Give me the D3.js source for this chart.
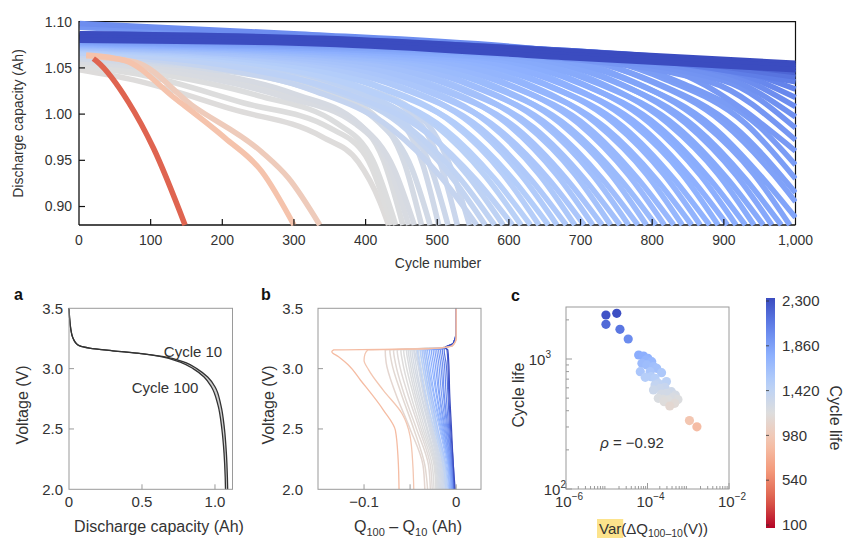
<!DOCTYPE html>
<html><head><meta charset="utf-8">
<script src="https://cdn.jsdelivr.net/npm/d3@7"></script>
<style>body{margin:0;background:#fff}svg{font-family:"Liberation Sans",Arial,Helvetica,sans-serif}</style>
</head><body>
<svg id="c" width="846" height="540"></svg>
<script>
// ================= DATA =================
// Top panel: discharge capacity (Ah) vs cycle number, one curve per cell (drawing order)
const capTicksX = [0,100,200,300,400,500,600,700,800,900,1000];
const capTicksY = [0.90,0.95,1.00,1.05,1.10];
const capLives = [430,436,442,450,460,468,478,490,502,515,528,545,
  555,567,580,592,605,617,630,642,655,667,680,692,705,717,730,742,755,767,780,792,805,817,830,842,855,867,880,892,905,917,930,942,955,967,980,992,
  1005,1020,1035,1050,1070,1090,1110,1140,1170,1200,1250,1300,1350,1450,1600,1900,2100,2250,2300,
  336,300,148];
const capCurves = [
  [[0,1.048],[76,1.037],[215,1.005],[340,0.975],[390,0.948],[420,0.905],[432,0.88]],
  [[0,1.052],[90,1.042],[230,1.012],[350,0.985],[400,0.955],[436,0.88]],
  [[0,1.055],[100,1.045],[250,1.02],[360,0.99],[410,0.95],[442,0.88]],
  [[0,1.058],[120,1.048],[270,1.025],[380,0.995],[425,0.95],[452,0.88]],
  [[0,1.057],[130,1.046],[280,1.02],[385,0.99],[432,0.945],[460,0.88]],
  [[0,1.06],[150,1.048],[300,1.022],[390,0.99],[440,0.94],[468,0.88]],
  [[0,1.062],[150,1.052],[320,1.03],[410,1.0],[455,0.945],[478,0.88]],
  [[0,1.06],[170,1.05],[330,1.025],[420,0.99],[465,0.94],[490,0.88]],
  [[0,1.065],[200,1.052],[350,1.03],[440,1.0],[480,0.945],[502,0.88]],
  [[0,1.062],[200,1.05],[360,1.028],[450,0.995],[492,0.94],[515,0.88]],
  [[0,1.066],[220,1.055],[380,1.032],[465,1.0],[505,0.945],[528,0.88]],
  [[0,1.064],[230,1.052],[390,1.03],[480,0.995],[520,0.94],[545,0.88]],
  [[0,1.066],[175,1.052],[325,1.026],[435,0.985],[505,0.932],[555,0.88]],
  [[0,1.07],[187,1.056],[337,1.03],[447,0.99],[517,0.935],[567,0.88]],
  [[0,1.068],[200,1.054],[350,1.027],[460,0.986],[530,0.932],[580,0.88]],
  [[0,1.071],[212,1.057],[362,1.032],[472,0.99],[542,0.934],[592,0.88]],
  [[0,1.066],[225,1.05],[375,1.022],[485,0.98],[555,0.928],[605,0.88]],
  [[0,1.072],[237,1.058],[387,1.031],[497,0.988],[567,0.933],[617,0.88]],
  [[0,1.069],[250,1.054],[400,1.026],[510,0.984],[580,0.93],[630,0.88]],
  [[0,1.073],[262,1.059],[412,1.032],[522,0.99],[592,0.935],[642,0.88]],
  [[0,1.07],[275,1.055],[425,1.027],[535,0.984],[605,0.93],[655,0.88]],
  [[0,1.074],[287,1.06],[437,1.033],[547,0.99],[617,0.934],[667,0.88]],
  [[0,1.071],[300,1.056],[450,1.028],[560,0.985],[630,0.93],[680,0.88]],
  [[0,1.075],[312,1.061],[462,1.034],[572,0.99],[642,0.935],[692,0.88]],
  [[0,1.072],[325,1.057],[475,1.028],[585,0.984],[655,0.93],[705,0.88]],
  [[0,1.075],[337,1.061],[487,1.034],[597,0.99],[667,0.934],[717,0.88]],
  [[0,1.072],[350,1.057],[500,1.028],[610,0.985],[680,0.93],[730,0.88]],
  [[0,1.076],[362,1.062],[512,1.035],[622,0.99],[692,0.935],[742,0.88]],
  [[0,1.073],[375,1.058],[525,1.029],[635,0.985],[705,0.93],[755,0.88]],
  [[0,1.076],[387,1.062],[537,1.035],[647,0.99],[717,0.934],[767,0.88]],
  [[0,1.074],[400,1.059],[550,1.03],[660,0.985],[730,0.93],[780,0.88]],
  [[0,1.077],[412,1.063],[562,1.036],[672,0.99],[742,0.935],[792,0.88]],
  [[0,1.074],[425,1.059],[575,1.03],[685,0.985],[755,0.93],[805,0.88]],
  [[0,1.077],[437,1.063],[587,1.036],[697,0.99],[767,0.934],[817,0.88]],
  [[0,1.075],[450,1.06],[600,1.031],[710,0.986],[780,0.93],[830,0.88]],
  [[0,1.078],[462,1.064],[612,1.037],[722,0.99],[792,0.935],[842,0.88]],
  [[0,1.075],[475,1.06],[625,1.031],[735,0.985],[805,0.93],[855,0.88]],
  [[0,1.078],[487,1.064],[637,1.037],[747,0.99],[817,0.934],[867,0.88]],
  [[0,1.076],[500,1.061],[650,1.032],[760,0.986],[830,0.93],[880,0.88]],
  [[0,1.079],[512,1.065],[662,1.038],[772,0.99],[842,0.935],[892,0.88]],
  [[0,1.076],[525,1.061],[675,1.032],[785,0.986],[855,0.93],[905,0.88]],
  [[0,1.079],[537,1.065],[687,1.038],[797,0.99],[867,0.934],[917,0.88]],
  [[0,1.077],[550,1.062],[700,1.033],[810,0.986],[880,0.93],[930,0.88]],
  [[0,1.08],[562,1.066],[712,1.039],[822,0.99],[892,0.935],[942,0.88]],
  [[0,1.077],[575,1.062],[725,1.033],[835,0.986],[905,0.93],[955,0.88]],
  [[0,1.08],[587,1.066],[737,1.039],[847,0.99],[917,0.934],[967,0.88]],
  [[0,1.078],[600,1.063],[750,1.034],[860,0.986],[930,0.93],[980,0.88]],
  [[0,1.08],[612,1.066],[762,1.039],[872,0.99],[942,0.935],[992,0.88]],
  [[0,1.078],[625,1.063],[775,1.034],[885,0.986],[955,0.93],[1000,0.888]],
  [[0,1.081],[640,1.066],[790,1.038],[900,0.99],[970,0.934],[1000,0.905]],
  [[0,1.079],[655,1.064],[805,1.034],[915,0.986],[1000,0.915]],
  [[0,1.081],[670,1.066],[820,1.037],[930,0.99],[1000,0.93]],
  [[0,1.08],[690,1.064],[840,1.034],[950,0.986],[1000,0.945]],
  [[0,1.082],[710,1.066],[860,1.037],[1000,0.96]],
  [[0,1.094],[250,1.083],[600,1.066],[880,1.035],[1000,0.972]],
  [[0,1.096],[300,1.085],[620,1.067],[900,1.036],[1000,0.985]],
  [[0,1.082],[650,1.067],[900,1.04],[1000,0.997]],
  [[0,1.098],[300,1.087],[650,1.07],[900,1.045],[1000,1.008]],
  [[0,1.083],[650,1.068],[900,1.048],[1000,1.018]],
  [[0,1.085],[700,1.068],[900,1.052],[1000,1.027]],
  [[0,1.084],[700,1.066],[1000,1.035]],
  [[0,1.086],[600,1.07],[850,1.056],[1000,1.04]],
  [[0,1.087],[500,1.076],[800,1.062],[1000,1.045]],
  [[0,1.085],[340,1.08],[686,1.066],[1000,1.05]],
  [[0,1.087],[340,1.082],[686,1.068],[1000,1.055]],
  [[0,1.083],[340,1.079],[686,1.064],[1000,1.052]],
  [[0,1.08],[340,1.076],[686,1.061],[1000,1.048]],
  [[10,1.063],[80,1.056],[157,1.010],[255,0.959],[292,0.931],[336,0.88]],
  [[10,1.064],[64,1.058],[134,1.017],[204,0.974],[255,0.938],[300,0.88]],
  [[20,1.06],[25,1.057],[69,1.013],[104,0.963],[148,0.88]]
];

// Panel a: voltage curves at cycle 10 and cycle 100
const aTicksX = [0,0.5,1.0];
const aTicksY = [2.0,2.5,3.0,3.5];
const aVolt = [3.5,3.42,3.33,3.26,3.215,3.19,3.17,3.148,3.125,3.1,3.05,3.0,2.93,2.85,2.7,2.5,2.3,2.1,2.0];
const aQ10  = [0,0.004,0.012,0.025,0.045,0.07,0.14,0.3,0.5,0.65,0.80,0.875,0.95,1.0,1.04,1.065,1.078,1.085,1.087];
const aQ100 = [0,0.004,0.012,0.025,0.045,0.07,0.14,0.3,0.49,0.63,0.77,0.85,0.925,0.975,1.02,1.047,1.062,1.07,1.072];

// Panel b: Q100 - Q10 vs voltage
const bTicksX = [-0.1,-0.05,0];
const bTickLabels = ["\u22120.1","","0"];
const bTicksY = [2.0,2.5,3.0,3.5];
const bTopV = [3.5,3.3,3.21,3.175];
const bTopQ = [0,0,-0.003,-0.012];
const bVolt = [3.155,3.05,2.8,2.5,2.2,2.0];
const bLives = [430,440,450,460,470,480,490,500,510,520,530,540,550,560,575,590,610,630,
  650,720,800,870,930,990,1050,1100,1150,1200,1250,1300,1380,1500,1700,2000,2300];
const bCurvesQ = [
  [-0.077,-0.076,-0.066,-0.050,-0.036,-0.034],
  [-0.072,-0.070,-0.060,-0.046,-0.034,-0.031],
  [-0.068,-0.066,-0.057,-0.043,-0.030,-0.028],
  [-0.064,-0.062,-0.053,-0.040,-0.028,-0.026],
  [-0.060,-0.058,-0.050,-0.038,-0.026,-0.024],
  [-0.057,-0.055,-0.047,-0.036,-0.024,-0.022],
  [-0.054,-0.052,-0.045,-0.034,-0.023,-0.021],
  [-0.052,-0.050,-0.043,-0.032,-0.022,-0.020],
  [-0.050,-0.048,-0.041,-0.031,-0.021,-0.019],
  [-0.048,-0.046,-0.039,-0.029,-0.020,-0.018],
  [-0.046,-0.044,-0.038,-0.028,-0.019,-0.017],
  [-0.045,-0.042,-0.036,-0.027,-0.018,-0.016],
  [-0.043,-0.041,-0.035,-0.026,-0.017,-0.015],
  [-0.041,-0.039,-0.033,-0.025,-0.016,-0.014],
  [-0.039,-0.037,-0.031,-0.023,-0.015,-0.013],
  [-0.037,-0.035,-0.030,-0.022,-0.014,-0.012],
  [-0.035,-0.033,-0.028,-0.021,-0.013,-0.011],
  [-0.033,-0.031,-0.027,-0.020,-0.012,-0.010],
  [-0.042,-0.040,-0.034,-0.024,-0.014,-0.011],
  [-0.039,-0.037,-0.031,-0.022,-0.012,-0.009],
  [-0.037,-0.035,-0.029,-0.020,-0.011,-0.008],
  [-0.035,-0.033,-0.027,-0.018,-0.010,-0.007],
  [-0.033,-0.031,-0.025,-0.017,-0.009,-0.007],
  [-0.031,-0.029,-0.024,-0.016,-0.008,-0.006],
  [-0.029,-0.027,-0.022,-0.015,-0.008,-0.005],
  [-0.027,-0.025,-0.021,-0.014,-0.007,-0.005],
  [-0.025,-0.023,-0.019,-0.013,-0.007,-0.004],
  [-0.023,-0.021,-0.018,-0.012,-0.006,-0.004],
  [-0.021,-0.019,-0.016,-0.011,-0.006,-0.003],
  [-0.019,-0.017,-0.014,-0.010,-0.005,-0.003],
  [-0.017,-0.015,-0.013,-0.009,-0.005,-0.003],
  [-0.015,-0.013,-0.011,-0.008,-0.004,-0.002],
  [-0.013,-0.011,-0.009,-0.007,-0.004,-0.002],
  [-0.010,-0.009,-0.008,-0.006,-0.003,-0.002],
  [-0.009,-0.008,-0.007,-0.005,-0.003,-0.001]
];
const bOrangeLives = [336,300];
const bOrangeCurves = [
  [[0,3.5],[0,3.25],[-0.004,3.19],[-0.03,3.165],[-0.096,3.155],[-0.099,3.12],[-0.1,3.07],[-0.095,2.99],[-0.079,2.82],[-0.059,2.63],[-0.05,2.44],[-0.047,2.2],[-0.046,2.0]],
  [[0,3.5],[0,3.25],[-0.004,3.19],[-0.03,3.165],[-0.133,3.155],[-0.135,3.14],[-0.128,3.10],[-0.117,3.03],[-0.104,2.906],[-0.079,2.657],[-0.066,2.49],[-0.063,2.25],[-0.062,2.0]]
];

// Panel c: scatter, Var(dQ) vs cycle life
const cVar  = [9.55e-6,1.76e-5,9.55e-6,2.11e-5,3.36e-5,6.07e-5,8.0e-5,1.02e-4,1.27e-4,7.3e-5,9.6e-5,1.40e-4,6.65e-5,8.8e-5,1.16e-4,1.68e-4,2.21e-4,1.53e-4,1.84e-4,1.53e-4,2.02e-4,2.67e-4,2.92e-4,3.86e-4,1.84e-4,2.43e-4,3.21e-4,4.23e-4,5.58e-4,3.52e-4,2.57e-4,4.65e-4,1.07e-3,1.63e-3,9.1e-5,1.22e-4,2.21e-4,1.40e-4,4.82e-4,2.92e-4];
const cLife = [2180,2246,1849,1692,1425,1073,1055,1012,953,926,900,874,799,723,799,848,785,710,650,631,594,605,544,561,498,489,484,507,489,435,470,456,336,301,982,731,538,578,528,670];
const cMajorX = [1e-6,1e-4,1e-2];
const cMajorY = [100,1000];
const cbTicks = [100,540,980,1420,1860,2300];

// ================= DRAWING =================
const svg = d3.select("#c");
const txtCol = "#333";
const cwStops = ["#3b4cc0","#6282ea","#8db0fe","#b8d0f9","#dddddd","#f5c4ad","#f49a7b","#de604d","#b40426"];
const cw = d3.scaleLinear().domain(d3.range(9).map(i => i/8)).range(cwStops).interpolate(d3.interpolateRgb);
const lifeT = d3.scaleLog().domain([100,2300]).range([1,0]).clamp(true);
const lifeColor = L => cw(lifeT(L));
const topT = d3.scaleLog().domain([100,1900]).range([1,0]).clamp(true);
const topColor = L => cw(topT(L));

// ---------- Top panel ----------
const tx = d3.scaleLinear().domain([0,1000]).range([79,795.5]);
const ty = d3.scaleLinear().domain([0.88,1.10]).range([225,21.7]);
const gTop = svg.append("g");
gTop.append("clipPath").attr("id","clipTop").append("rect")
  .attr("x",tx(0)+0.7).attr("y",ty(1.10)-4).attr("width",tx(1000)-tx(0)+1).attr("height",ty(0.88)-ty(1.10)+5.5);
gTop.append("path").attr("d",`M${tx(0)},${ty(1.10)}H${tx(1000)}V${ty(0.88)}`).attr("fill","none").attr("stroke","#111").attr("stroke-width",1.2);
gTop.append("line").attr("x1",tx(0)).attr("x2",tx(1000)).attr("y1",ty(0.88)).attr("y2",ty(0.88)).attr("stroke","#111").attr("stroke-width",1.3);
const capLine = d3.line().x(d => tx(d[0])).y(d => ty(d[1])).curve(d3.curveMonotoneX);
gTop.append("g").attr("clip-path","url(#clipTop)").selectAll("path").data(capCurves).join("path")
  .attr("d",capLine).attr("fill","none").attr("stroke-width",5.5).attr("stroke-linejoin","round")
  .attr("stroke",(d,i) => topColor(capLives[i]));
gTop.append("line").attr("x1",tx(0)).attr("x2",tx(0)).attr("y1",ty(1.10)-0.6).attr("y2",ty(0.88)).attr("stroke","#111").attr("stroke-width",1.3);
capTicksX.forEach(v => {
  if (v>0 && v<1000) gTop.append("line").attr("x1",tx(v)).attr("x2",tx(v)).attr("y1",ty(0.88)).attr("y2",ty(0.88)-6).attr("stroke","#111").attr("stroke-width",1.2);
  gTop.append("text").attr("x",tx(v)).attr("y",245).attr("text-anchor","middle").attr("font-size",14).attr("fill",txtCol).text(d3.format(",")(v));
});
capTicksY.forEach(v => {
  if (v<1.10) gTop.append("line").attr("x1",tx(0)).attr("x2",tx(0)+6).attr("y1",ty(v)).attr("y2",ty(v)).attr("stroke","#111").attr("stroke-width",1.2);
  gTop.append("text").attr("x",72).attr("y",ty(v)).attr("dy","0.35em").attr("text-anchor","end").attr("font-size",14).attr("fill",txtCol).text(v.toFixed(2));
});
gTop.append("text").attr("x",438).attr("y",268).attr("text-anchor","middle").attr("font-size",14).attr("fill",txtCol).text("Cycle number");
gTop.append("text").attr("transform",`translate(23,123.5) rotate(-90)`).attr("text-anchor","middle").attr("font-size",14).attr("fill",txtCol).text("Discharge capacity (Ah)");

function grayFrame(g,x0,y0,x1,y1){
  g.append("rect").attr("x",x0).attr("y",y0).attr("width",x1-x0).attr("height",y1-y0).attr("fill","none").attr("stroke","#9a9a9a").attr("stroke-width",1);
}
function letter(x,y,t){ svg.append("text").attr("x",x).attr("y",y).attr("font-size",16).attr("font-weight","bold").attr("fill","#111").text(t); }

// ---------- Panel a ----------
const ax = d3.scaleLinear().domain([0,1.12]).range([69,232.5]);
const ay = d3.scaleLinear().domain([2,3.5]).range([489.3,308.3]);
const pa = svg.append("g");
const aData = aVolt.map((v,i) => ({v, q10:aQ10[i], q100:aQ100[i]}));
pa.append("path").datum(aData).attr("d", d3.area().y(d => ay(d.v)).x0(d => ax(d.q100)).x1(d => ax(d.q10)).curve(d3.curveMonotoneY))
  .attr("fill","#cfcfcf");
["q10","q100"].forEach(k => {
  pa.append("path").datum(aData).attr("d", d3.line().y(d => ay(d.v)).x(d => ax(d[k])).curve(d3.curveMonotoneY))
    .attr("fill","none").attr("stroke","#333").attr("stroke-width",1.3);
});
grayFrame(pa, ax(0), ay(3.5), ax(1.12), ay(2));
aTicksX.forEach(v => {
  if (v>0) pa.append("line").attr("x1",ax(v)).attr("x2",ax(v)).attr("y1",ay(2)).attr("y2",ay(2)-5).attr("stroke","#9a9a9a");
  pa.append("text").attr("x",ax(v)).attr("y",507).attr("text-anchor","middle").attr("font-size",15).attr("fill",txtCol).text(v===0?"0":v.toFixed(1));
});
aTicksY.forEach(v => {
  if (v>2 && v<3.5) pa.append("line").attr("x1",ax(0)).attr("x2",ax(0)+5).attr("y1",ay(v)).attr("y2",ay(v)).attr("stroke","#9a9a9a");
  pa.append("text").attr("x",63).attr("y",ay(v)).attr("dy","0.35em").attr("text-anchor","end").attr("font-size",15).attr("fill",txtCol).text(v.toFixed(1));
});
pa.append("text").attr("x",193).attr("y",357).attr("text-anchor","middle").attr("font-size",15).attr("fill",txtCol).text("Cycle 10");
pa.append("text").attr("x",165).attr("y",393).attr("text-anchor","middle").attr("font-size",15).attr("fill",txtCol).text("Cycle 100");
pa.append("text").attr("x",159).attr("y",532).attr("text-anchor","middle").attr("font-size",16).attr("fill",txtCol).text("Discharge capacity (Ah)");
pa.append("text").attr("transform","translate(27.5,405) rotate(-90)").attr("text-anchor","middle").attr("font-size",16).attr("fill",txtCol).text("Voltage (V)");
letter(14,300,"a");

// ---------- Panel b ----------
const bx = d3.scaleLinear().domain([-0.15,0.027]).range([318,481]);
const by = d3.scaleLinear().domain([2,3.5]).range([489.3,308.3]);
const pb = svg.append("g");
pb.append("clipPath").attr("id","clipB").append("rect").attr("x",318).attr("y",308.3).attr("width",163).attr("height",181);
const bLine = d3.line().x(d => bx(d[0])).y(d => by(d[1])).curve(d3.curveMonotoneY);
const bCurves = bCurvesQ.map(qs => bTopQ.map((q,i) => [q,bTopV[i]]).concat(qs.map((q,i) => [q,bVolt[i]])));
const gb = pb.append("g").attr("clip-path","url(#clipB)");
gb.selectAll("path.c").data(bCurves).join("path").attr("class","c").attr("d",bLine)
  .attr("fill","none").attr("stroke-width",(d,i) => bLives[i] < 640 ? 1.5 : 1.2).attr("stroke",(d,i) => lifeColor(bLives[i]));
gb.selectAll("path.o").data(bOrangeCurves).join("path").attr("class","o").attr("d",bLine)
  .attr("fill","none").attr("stroke-width",1.3).attr("stroke",(d,i) => lifeColor(bOrangeLives[i]));
grayFrame(pb, bx(-0.15), by(3.5), bx(0.027), by(2));
bTicksX.forEach((v,i) => {
  pb.append("line").attr("x1",bx(v)).attr("x2",bx(v)).attr("y1",by(2)).attr("y2",by(2)-5).attr("stroke","#9a9a9a");
  pb.append("text").attr("x",bx(v)).attr("y",507).attr("text-anchor","middle").attr("font-size",15).attr("fill",txtCol).text(bTickLabels[i]);
});
bTicksY.forEach(v => {
  if (v>2 && v<3.5) pb.append("line").attr("x1",bx(-0.15)).attr("x2",bx(-0.15)+5).attr("y1",by(v)).attr("y2",by(v)).attr("stroke","#9a9a9a");
  pb.append("text").attr("x",303).attr("y",by(v)).attr("dy","0.35em").attr("text-anchor","end").attr("font-size",15).attr("fill",txtCol).text(v.toFixed(1));
});
const bt = pb.append("text").attr("x",408).attr("y",532).attr("text-anchor","middle").attr("font-size",16).attr("fill",txtCol);
bt.append("tspan").text("Q");
bt.append("tspan").attr("dy",4).attr("font-size",11).text("100");
bt.append("tspan").attr("dy",-4).text(" \u2013 Q");
bt.append("tspan").attr("dy",4).attr("font-size",11).text("10");
bt.append("tspan").attr("dy",-4).text(" (Ah)");
pb.append("text").attr("transform","translate(274,405) rotate(-90)").attr("text-anchor","middle").attr("font-size",16).attr("fill",txtCol).text("Voltage (V)");
letter(261,300,"b");

// ---------- Panel c ----------
const cx = d3.scaleLog().domain([1e-6,1e-2]).range([566,729]);
const cy = d3.scaleLog().domain([100,2512]).range([489,307]);
const pc = svg.append("g");
const cIdx = d3.range(cVar.length).sort((a,b) => cLife[b]-cLife[a]);
pc.selectAll("circle").data(cIdx).join("circle")
  .attr("cx",i => cx(cVar[i])).attr("cy",i => cy(cLife[i])).attr("r",4.6)
  .attr("fill",i => lifeColor(cLife[i]));
grayFrame(pc, 566, 307, 729, 489);
[1e-6,1e-5,1e-4,1e-3].forEach(dec => {
  for (let m=2; m<=9; m++) { const v=dec*m; pc.append("line").attr("x1",cx(v)).attr("x2",cx(v)).attr("y1",489).attr("y2",486).attr("stroke","#9a9a9a"); }
});
cMajorX.forEach(v => pc.append("line").attr("x1",cx(v)).attr("x2",cx(v)).attr("y1",489).attr("y2",483).attr("stroke","#9a9a9a"));
[100,1000].forEach(dec => {
  for (let m=2; m<=9; m++) { const v=dec*m; if (v<=2512) pc.append("line").attr("x1",566).attr("x2",569).attr("y1",cy(v)).attr("y2",cy(v)).attr("stroke","#9a9a9a"); }
});
cMajorY.forEach(v => pc.append("line").attr("x1",566).attr("x2",572).attr("y1",cy(v)).attr("y2",cy(v)).attr("stroke","#9a9a9a"));
function pow10(g,x,y,exp,anchor){
  const t = g.append("text").attr("x",x).attr("y",y).attr("text-anchor",anchor).attr("font-size",15).attr("fill",txtCol);
  t.append("tspan").text("10");
  t.append("tspan").attr("dy",-7).attr("font-size",10).text(exp);
}
pow10(pc,551,365,"3","end");
pow10(pc,566,495,"2","end");
cMajorX.forEach(v => pow10(pc,cx(v)+3,507,"\u2212"+Math.round(-Math.log10(v)),"middle"));
const rho = pc.append("text").attr("x",632).attr("y",448).attr("text-anchor","middle").attr("font-size",15).attr("fill",txtCol);
rho.append("tspan").attr("font-style","italic").text("\u03c1");
rho.append("tspan").text(" = \u22120.92");
const hl = pc.append("rect").attr("fill","#fce38c");
const ct = pc.append("text").attr("x",599).attr("y",534).attr("font-size",15).attr("fill",txtCol);
const vt = ct.append("tspan").text("Var");
ct.append("tspan").text("(\u0394Q");
ct.append("tspan").attr("dy",3).attr("font-size",10.5).text("100\u201310");
ct.append("tspan").attr("dy",-3).text("(V))");
const vw = vt.node().getComputedTextLength();
hl.attr("x",597).attr("y",519).attr("width",vw+4).attr("height",19);
pc.append("text").attr("transform","translate(524,395) rotate(-90)").attr("text-anchor","middle").attr("font-size",16).attr("fill",txtCol).text("Cycle life");
letter(511,301,"c");

// ---------- Colorbar ----------
const cb = d3.scaleLinear().domain([100,2300]).range([525,301]);
const defs = svg.append("defs");
const grad = defs.append("linearGradient").attr("id","cbg").attr("x1",0).attr("x2",0).attr("y1",0).attr("y2",1);
d3.range(0,1.0001,0.05).forEach(t => grad.append("stop").attr("offset",t).attr("stop-color",cw(t)));
svg.append("rect").attr("x",766).attr("y",298).attr("width",9).attr("height",230).attr("fill","url(#cbg)");
cbTicks.forEach(v => {
  svg.append("line").attr("x1",766).attr("x2",769).attr("y1",cb(v)).attr("y2",cb(v)).attr("stroke","#333").attr("stroke-width",0.8);
  svg.append("text").attr("x",782).attr("y",cb(v)).attr("dy","0.35em").attr("font-size",15).attr("fill",txtCol).text(d3.format(",")(v));
});
svg.append("text").attr("transform","translate(829.5,418) rotate(90)").attr("text-anchor","middle").attr("font-size",16).attr("fill",txtCol).text("Cycle life");
</script>
</body></html>
